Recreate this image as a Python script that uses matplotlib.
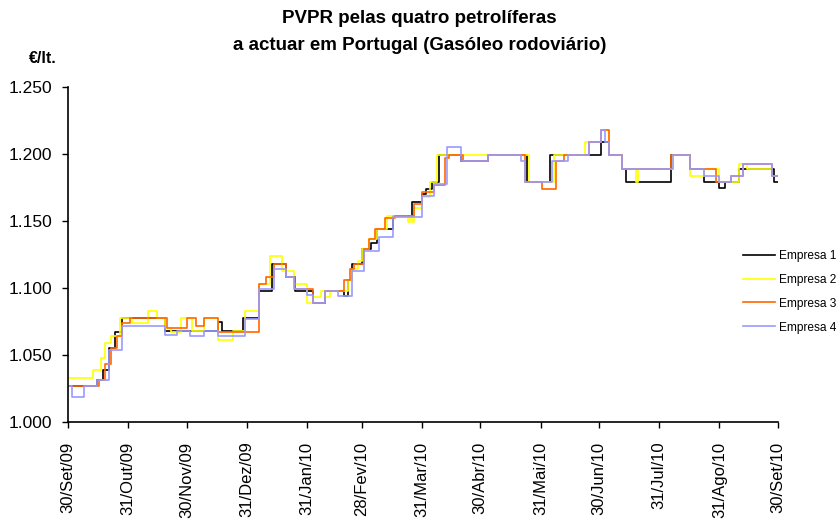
# PVPR das quatro petroliferas - gasoleo rodoviario, set/09 a set/10

from datetime import date, timedelta

import matplotlib
matplotlib.use("Agg")
import matplotlib.pyplot as plt

plt.rcParams['font.family'] = ['Liberation Sans', 'DejaVu Sans']

START = date(2009, 9, 30)
END_DAY = 365

# days after 30/Set/09 on which the price changes, and the new price (EUR/lt.)
E1_DAYS = [0, 15, 18, 21, 24, 28, 50, 77, 79, 90, 98, 105, 112, 117, 126, 132,
           142, 144, 146, 151, 156, 159, 167, 177, 182, 184, 187, 191, 202, 216,
           236, 248, 274, 278, 285, 287, 310, 320, 327, 335, 338, 345, 363]
E1_VALS = [1.027, 1.031, 1.039, 1.055, 1.067, 1.078, 1.068, 1.075, 1.068, 1.078,
           1.098, 1.118, 1.108, 1.098, 1.089, 1.098, 1.094, 1.106, 1.118, 1.129,
           1.134, 1.144, 1.154, 1.164, 1.170, 1.174, 1.179, 1.199, 1.195, 1.199,
           1.179, 1.199, 1.209, 1.199, 1.189, 1.179, 1.199, 1.189, 1.179, 1.175,
           1.179, 1.189, 1.179]

E2_DAYS = [0, 13, 17, 19, 22, 27, 33, 41, 46, 50, 53, 58, 64, 70, 77, 85, 91,
           98, 104, 110, 116, 123, 126, 130, 132, 135, 144, 146, 149, 151, 155,
           159, 164, 175, 176, 177, 178, 182, 186, 190, 237, 250, 266, 274, 278,
           285, 292, 293, 311, 320, 327, 335, 341, 345, 349, 362]
E2_VALS = [1.033, 1.039, 1.048, 1.059, 1.064, 1.078, 1.074, 1.083, 1.078, 1.070,
           1.067, 1.078, 1.068, 1.078, 1.061, 1.068, 1.083, 1.103, 1.124, 1.113,
           1.103, 1.089, 1.093, 1.098, 1.093, 1.098, 1.106, 1.114, 1.120, 1.129,
           1.137, 1.144, 1.154, 1.149, 1.154, 1.149, 1.160, 1.168, 1.179, 1.199,
           1.179, 1.199, 1.209, 1.218, 1.199, 1.189, 1.179, 1.189, 1.199, 1.184,
           1.189, 1.179, 1.179, 1.193, 1.189, 1.184]

E3_DAYS = [0, 16, 19, 22, 25, 28, 32, 51, 61, 66, 70, 77, 98, 102, 106, 112,
           117, 126, 132, 142, 145, 147, 152, 155, 158, 163, 168, 178, 182, 188,
           194, 196, 203, 216, 235, 244, 251, 255, 268, 274, 278, 285, 310, 320,
           333, 341, 347, 362]
E3_VALS = [1.027, 1.031, 1.043, 1.055, 1.064, 1.074, 1.078, 1.070, 1.078, 1.072,
           1.078, 1.067, 1.103, 1.108, 1.118, 1.108, 1.099, 1.089, 1.098, 1.106,
           1.114, 1.118, 1.129, 1.137, 1.144, 1.152, 1.154, 1.163, 1.172, 1.177,
           1.197, 1.199, 1.195, 1.199, 1.179, 1.174, 1.195, 1.199, 1.209, 1.218,
           1.199, 1.189, 1.199, 1.189, 1.179, 1.184, 1.193, 1.184]

E4_DAYS = [0, 2, 8, 15, 21, 28, 50, 56, 63, 70, 77, 91, 98, 106, 112, 116, 123,
           126, 132, 139, 146, 152, 160, 167, 182, 188, 195, 202, 216, 233, 235,
           249, 257, 268, 274, 276, 278, 285, 311, 320, 327, 335, 341, 347, 362]
E4_VALS = [1.027, 1.019, 1.027, 1.031, 1.054, 1.072, 1.065, 1.068, 1.064, 1.068,
           1.064, 1.077, 1.099, 1.114, 1.108, 1.099, 1.095, 1.089, 1.098, 1.094,
           1.113, 1.128, 1.138, 1.153, 1.169, 1.178, 1.205, 1.195, 1.199, 1.195,
           1.179, 1.195, 1.199, 1.209, 1.218, 1.209, 1.199, 1.189, 1.199, 1.189,
           1.184, 1.179, 1.184, 1.193, 1.184]

SERIES = ["Empresa 1", "Empresa 2", "Empresa 3", "Empresa 4"]
COLORS = ["#000000", "#FFFF00", "#FF6600", "#9999FF"]

TICK_DATES = [date(2009, 9, 30), date(2009, 10, 31), date(2009, 11, 30),
              date(2009, 12, 31), date(2010, 1, 31), date(2010, 2, 28),
              date(2010, 3, 31), date(2010, 4, 30), date(2010, 5, 31),
              date(2010, 6, 30), date(2010, 7, 31), date(2010, 8, 31),
              date(2010, 9, 30)]
TICK_LABELS = ["30/Set/09", "31/Out/09", "30/Nov/09", "31/Dez/09", "31/Jan/10",
               "28/Fev/10", "31/Mar/10", "30/Abr/10", "31/Mai/10", "30/Jun/10",
               "31/Jul/10", "31/Ago/10", "30/Set/10"]


def to_dates(days):
    return [START + timedelta(days=d) for d in days]


fig = plt.figure(figsize=(8.39, 5.19), dpi=100)
ax = fig.add_axes([0.081, 0.187, 0.846, 0.645])

all_days = [E1_DAYS, E2_DAYS, E3_DAYS, E4_DAYS]
all_vals = [E1_VALS, E2_VALS, E3_VALS, E4_VALS]
for name, color, days, vals in zip(SERIES, COLORS, all_days, all_vals):
    x = to_dates(days + [END_DAY])
    y = vals + [vals[-1]]
    ax.plot(x, y, drawstyle="steps-post", color=color, lw=1.2, label=name)

ax.set_xlim(START, START + timedelta(days=END_DAY))
ax.set_ylim(1.0, 1.25)
ax.set_yticks([1.0, 1.05, 1.10, 1.15, 1.20, 1.25])
ax.yaxis.set_major_formatter(plt.FormatStrFormatter("%.3f"))
ax.set_xticks(TICK_DATES)
ax.set_xticklabels(TICK_LABELS, rotation=90, va="top", ha="center")

for side in ["top", "right"]:
    ax.spines[side].set_visible(False)
ax.spines["left"].set_linewidth(1.2)
ax.spines["bottom"].set_linewidth(1.2)
ax.tick_params(axis="y", direction="out", length=4.3, width=1, pad=7, labelsize=12.5)
ax.tick_params(axis="x", direction="out", length=4, width=1, pad=10, labelsize=12)

# two-line title, the lines set a bit further apart than the default
fig.text(0.5, 0.965, "PVPR pelas quatro petrolíferas",
         ha="center", va="center", fontsize=13.5, fontweight="bold")
fig.text(0.5, 0.913, "a actuar em Portugal (Gasóleo rodoviário)",
         ha="center", va="center", fontsize=13.5, fontweight="bold")
fig.text(0.051, 0.888, "€/lt.", ha="center", va="center", fontsize=11.5, fontweight="bold")

fig.legend(loc="center left", bbox_to_anchor=(0.8856, 0.438), frameon=False,
           fontsize=8.6, handlelength=2.7, labelspacing=1.0, borderpad=0,
           borderaxespad=0, handletextpad=0.35)

fig.savefig("out.png", dpi=100)
